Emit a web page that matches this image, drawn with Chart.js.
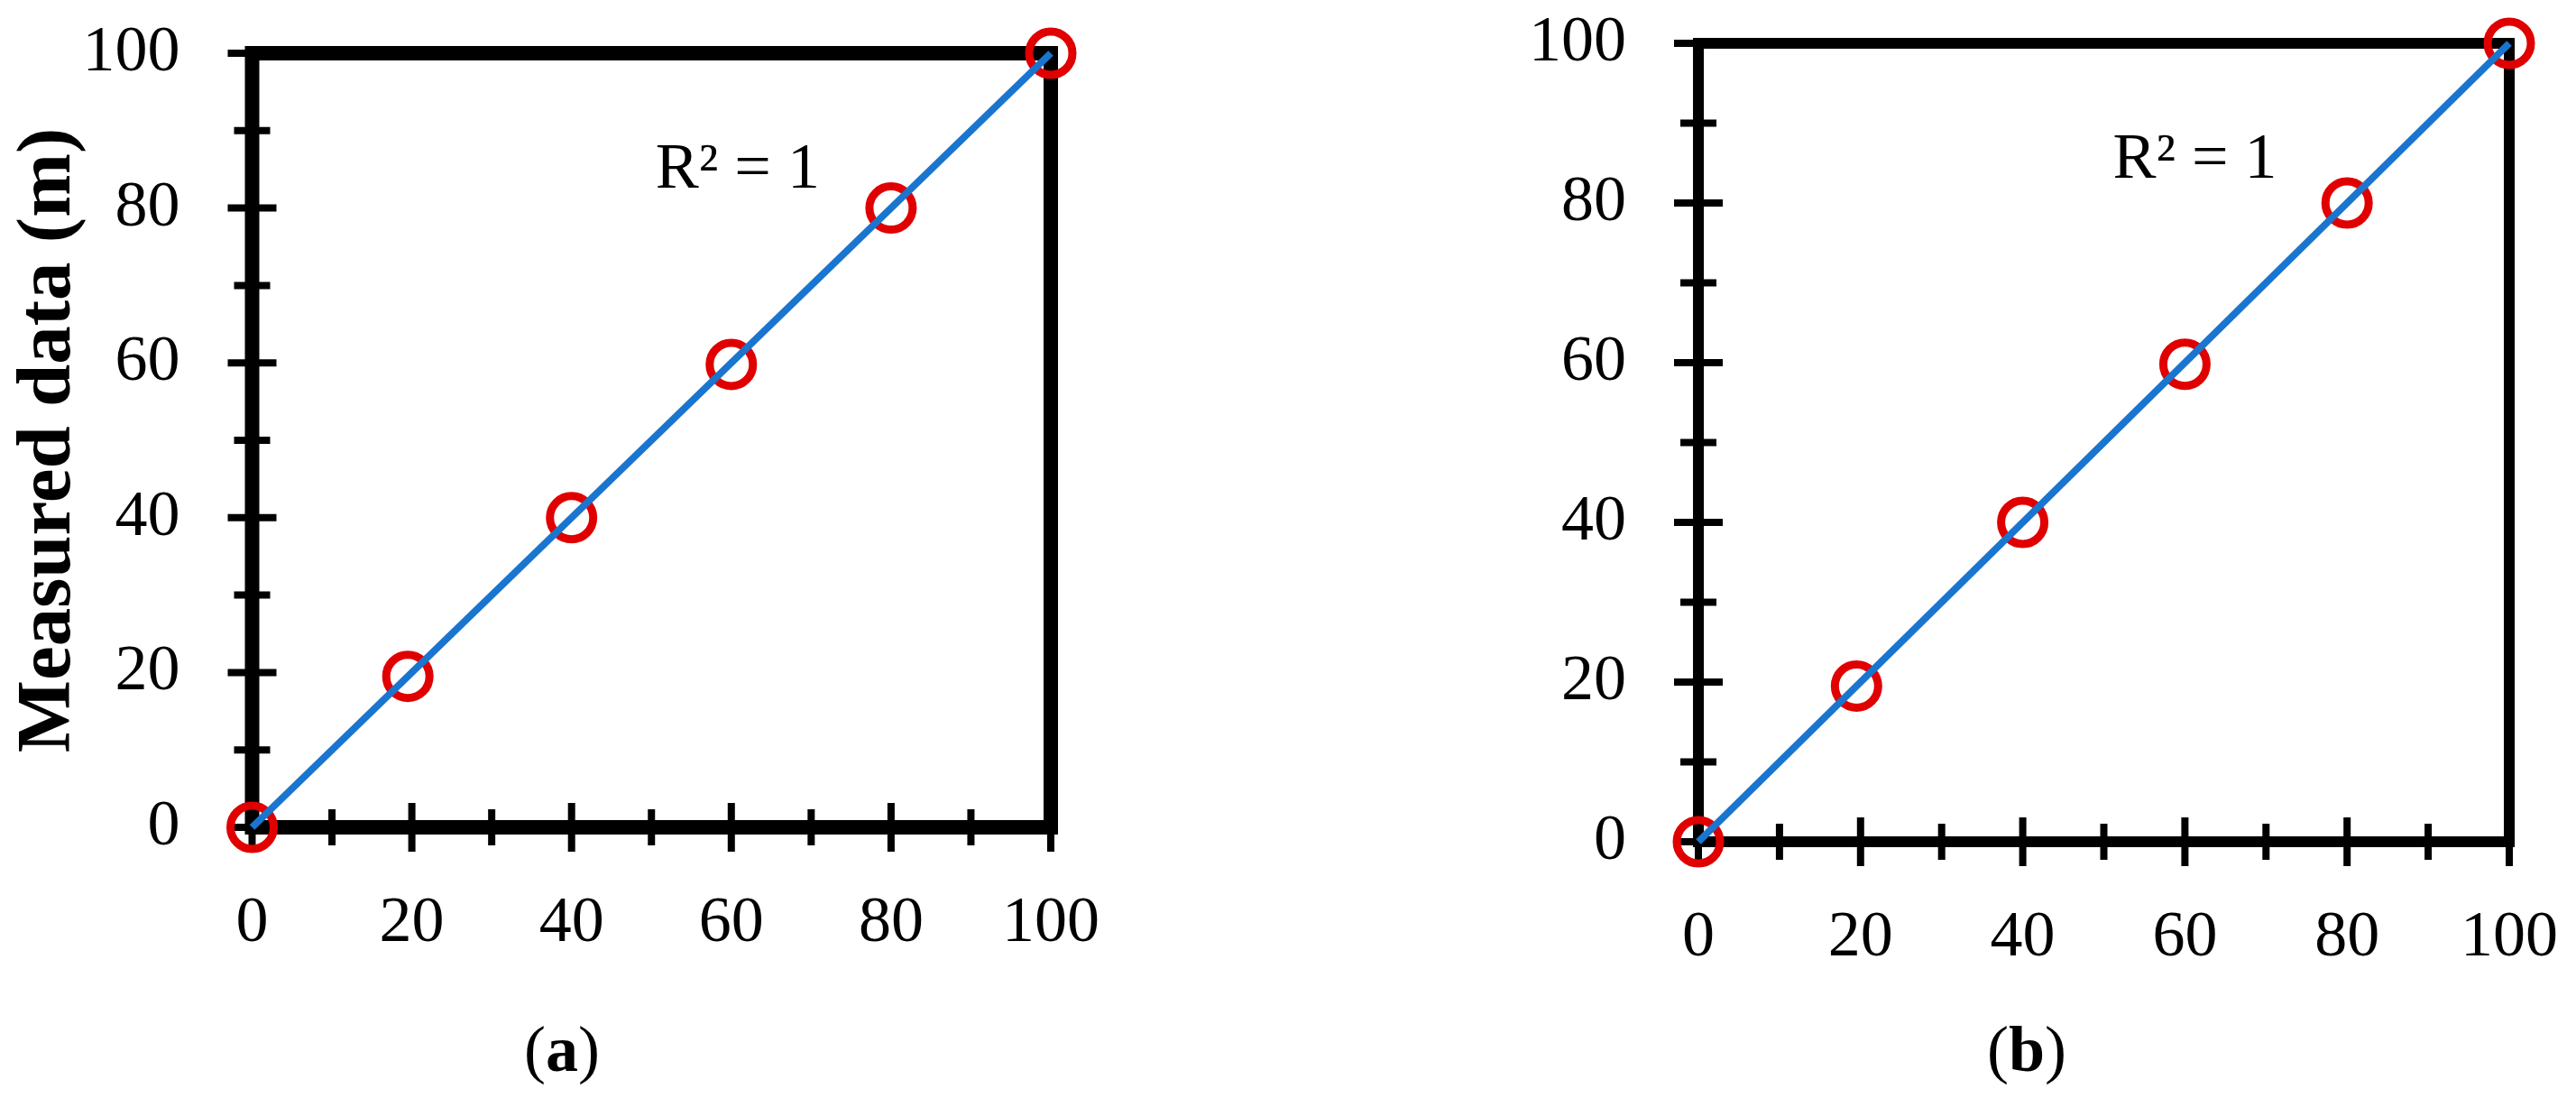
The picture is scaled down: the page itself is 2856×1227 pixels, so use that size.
<!DOCTYPE html>
<html>
<head>
<meta charset="utf-8">
<script src="https://cdn.jsdelivr.net/npm/chart.js@4.4.1/dist/chart.umd.min.js"></script>
<style>
  html, body { margin: 0; padding: 0; background: #fff; }
  #wrap { position: relative; width: 2856px; height: 1227px; }
  canvas { position: absolute; top: 0; }
</style>
</head>
<body>
<div id="wrap">
  <canvas id="chartA" width="1428" height="1227" style="left:0"></canvas>
  <canvas id="chartB" width="1428" height="1227" style="left:1428px"></canvas>
</div>
<script>
// values
const xA = [0, 19.5, 40, 60, 80, 100];
const yA = [0, 19.5, 40, 59.8, 80, 100];
const xB = [0, 19.5, 40, 60, 80, 100];
const yB = [0, 19.5, 40, 59.8, 80, 100];
const trendX = [0, 100];
const trendY = [0, 100];
const minorTicks = [10, 30, 50, 70, 90];
const r2Text = 'R\u00b2 = 1';

const FONT = "'Liberation Serif', 'Times New Roman', serif";
const RED = '#e00000';
const BLUE = '#1a75cf';

const toPts = (xs, ys) => xs.map((v, i) => ({ x: v, y: ys[i] }));

const frameTicks = {
  id: 'frameTicks',
  beforeDatasetsDraw(chart, args, opts) {
    const { ctx, chartArea: a, scales: { x, y } } = chart;
    ctx.save();
    ctx.strokeStyle = '#000';
    ctx.lineCap = 'butt';
    ctx.lineWidth = 8;
    // y ticks cross the axis
    y.ticks.forEach(t => {
      const p = y.getPixelForValue(t.value);
      ctx.beginPath(); ctx.moveTo(a.left - 27, p); ctx.lineTo(a.left + 27, p); ctx.stroke();
    });
    minorTicks.forEach(v => {
      const p = y.getPixelForValue(v);
      ctx.beginPath(); ctx.moveTo(a.left - 20, p); ctx.lineTo(a.left + 20, p); ctx.stroke();
    });
    x.ticks.forEach(t => {
      const p = x.getPixelForValue(t.value);
      ctx.beginPath(); ctx.moveTo(p, a.bottom - 27); ctx.lineTo(p, a.bottom + 27); ctx.stroke();
    });
    minorTicks.forEach(v => {
      const p = x.getPixelForValue(v);
      ctx.beginPath(); ctx.moveTo(p, a.bottom - 20); ctx.lineTo(p, a.bottom + 20); ctx.stroke();
    });
    ctx.lineWidth = opts.frameWidth;
    ctx.lineJoin = 'miter';
    ctx.strokeRect(a.left, a.top, a.right - a.left, a.bottom - a.top);
    ctx.restore();
  },
  afterDraw(chart, args, opts) {
    const { ctx, scales: { x, y } } = chart;
    ctx.save();
    ctx.fillStyle = '#000';
    ctx.textBaseline = 'alphabetic';
    ctx.textAlign = 'left';
    ctx.font = '72px ' + FONT;
    ctx.fillText(r2Text, x.getPixelForValue(opts.r2At[0]), y.getPixelForValue(opts.r2At[1]));
    // panel caption: regular parentheses, bold letter
    const parts = [['(', 'normal'], [opts.caption, 'bold'], [')', 'normal']];
    let w = 0;
    parts.forEach(p => { ctx.font = p[1] + ' 72px ' + FONT; w += ctx.measureText(p[0]).width; });
    let cx = opts.captionX - w / 2;
    parts.forEach(p => {
      ctx.font = p[1] + ' 72px ' + FONT;
      ctx.fillText(p[0], cx, 1187);
      cx += ctx.measureText(p[0]).width;
    });
    ctx.restore();
  }
};

// keep the plot area where the padding puts it
function noLabelPadding(scale) {
  scale.paddingTop = 0;
  scale.paddingBottom = 0;
  scale.paddingLeft = 0;
  scale.paddingRight = 0;
}

function makeChart(id, xs, ys, geo) {
  const tickFont = { family: FONT, size: 72 };
  return new Chart(document.getElementById(id), {
    type: 'scatter',
    data: {
      datasets: [
        {
          type: 'line',
          data: toPts(trendX, trendY),
          borderColor: BLUE,
          borderWidth: 8,
          pointRadius: 0,
          fill: false,
          clip: false,
          order: 0
        },
        {
          data: toPts(xs, ys),
          showLine: false,
          pointRadius: 24,
          pointBorderWidth: 9,
          pointBorderColor: RED,
          pointBackgroundColor: 'rgba(0,0,0,0)',
          clip: false,
          order: 1
        }
      ]
    },
    options: {
      responsive: false,
      animation: false,
      events: [],
      layout: { autoPadding: false, padding: { top: geo.top, right: geo.right, left: 0, bottom: 0 } },
      plugins: {
        legend: { display: false },
        tooltip: { enabled: false },
        frameTicks: { frameWidth: geo.frameWidth, r2At: geo.r2At, caption: geo.caption, captionX: geo.captionX }
      },
      scales: {
        x: {
          type: 'linear',
          min: 0, max: 100,
          grid: { display: false, drawTicks: false },
          border: { display: false },
          ticks: { stepSize: 20, font: tickFont, color: '#000', padding: 64, maxRotation: 0 },
          afterFit(scale) { scale.height = geo.xHeight; noLabelPadding(scale); }
        },
        y: {
          type: 'linear',
          min: 0, max: 100,
          grid: { display: false, drawTicks: false },
          border: { display: false },
          ticks: { stepSize: 20, font: tickFont, color: '#000', padding: 80 },
          title: {
            display: !!geo.yTitle,
            text: geo.yTitle || '',
            color: '#000',
            font: { family: FONT, size: 85, weight: 'bold' },
            padding: { top: 4, bottom: 0 }
          },
          afterFit(scale) { scale.width = geo.yWidth; noLabelPadding(scale); }
        }
      }
    },
    plugins: [frameTicks]
  });
}

makeChart('chartA', xA, yA, {
  top: 59, right: 263, yWidth: 279.5, xHeight: 310, frameWidth: 16,
  yTitle: 'Measured data (m)', r2At: [50.5, 82.6], caption: 'a', captionX: 623
});
makeChart('chartB', xB, yB, {
  top: 48, right: 74, yWidth: 455, xHeight: 294, frameWidth: 12,
  yTitle: null, r2At: [51.1, 83.2], caption: 'b', captionX: 819
});
</script>
</body>
</html>
